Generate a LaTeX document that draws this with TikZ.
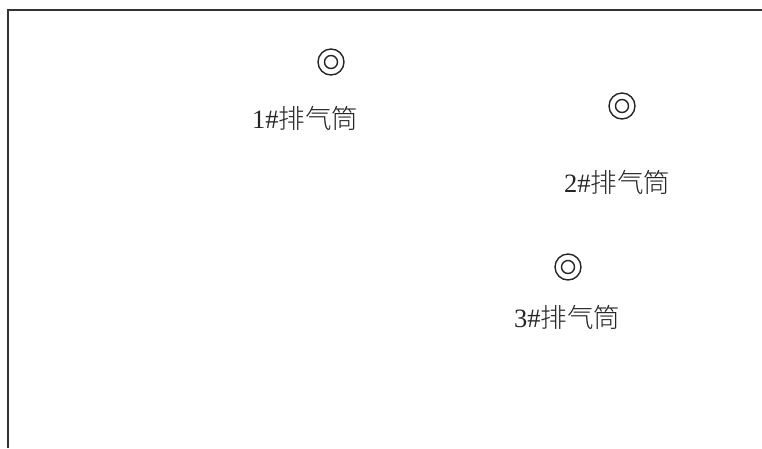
\documentclass[tikz,border=0pt]{standalone}
\usepackage{fontspec}
\setmainfont{Liberation Serif}
\newfontfamily\cjk{Noto Sans CJK SC Light}
\begin{document}
\begin{tikzpicture}[x=1pt,y=-1pt,
  stack/.style={draw=black!85, line width=1.4pt, circle, inner sep=0pt, minimum size=26pt,
    path picture={\draw[black!85, line width=1.4pt] (path picture bounding box.center) circle (6.5pt);}},
  lbl/.style={font=\fontsize{26.5}{30}\selectfont, inner sep=0pt, text=black!85}]
\useasboundingbox (0,0) rectangle (762,448);
\fill[white] (0,0) rectangle (762,448);
\draw[black!80, line width=2pt] (8,448) -- (8,10) -- (762,10);
\node[stack] (s1) at (331,62) {};
\node[stack] (s2) at (622,106) {};
\node[stack] (s3) at (568,267) {};
\node[lbl] (t1) at (305,118) {1\#{\cjk 排气筒}};
\node[lbl] (t2) at (617,182) {2\#{\cjk 排气筒}};
\node[lbl] (t3) at (567,317) {3\#{\cjk 排气筒}};
\end{tikzpicture}
\end{document}
